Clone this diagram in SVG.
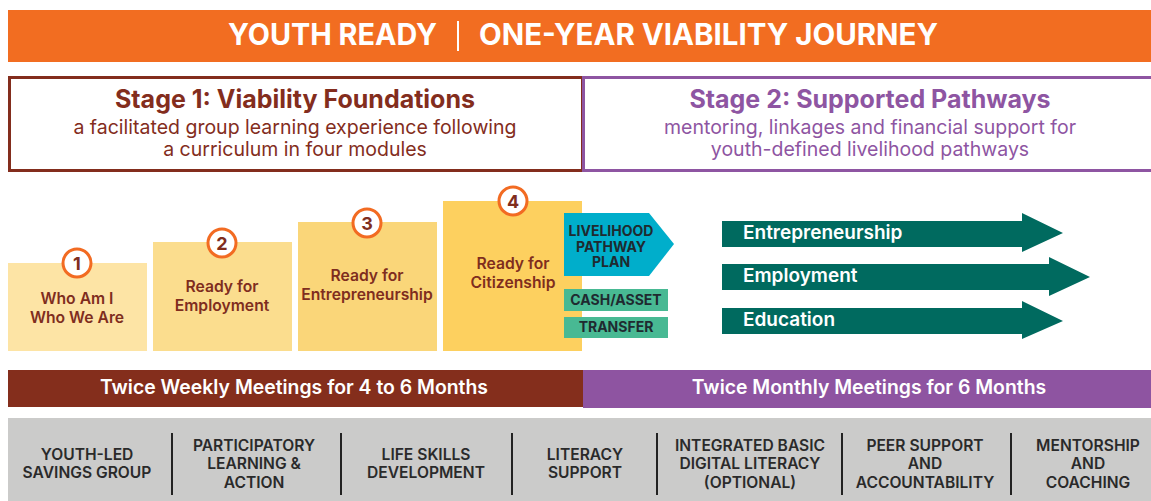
<svg xmlns="http://www.w3.org/2000/svg" width="1151" height="501" viewBox="0 0 1151 501">
<style>
.t{font-family:Inter,"Liberation Sans",Arial,sans-serif}
.title{font-size:29.5px;font-weight:700;fill:#fff}
.stitle{font-size:25px;font-weight:700}
.ssub{font-size:19.5px;font-weight:400}
.step{font-size:15.7px;font-weight:600;fill:#7f2d1e;text-anchor:middle}
.num{font-size:18px;font-weight:700;fill:#7f2d1e;text-anchor:middle}
.circ{fill:#fff;stroke:#f26b22;stroke-width:3}
.lab{font-size:14px;font-weight:700;fill:#1f2a30;text-anchor:middle}
.arr{fill:#006a5f}
.arrt{font-size:19px;font-weight:600;fill:#fff}
.bar{font-size:19.4px;font-weight:600;fill:#fff;text-anchor:middle}
.bt{font-size:15.6px;font-weight:600;fill:#2a2a2a;text-anchor:middle}
.sep{stroke:#222;stroke-width:2}
</style>
<rect width="1151" height="501" fill="#fff"/>
<g id="header">
<rect x="8" y="10" width="1143" height="52" fill="#f26d21"/>
<text class="t title" x="228" y="45" textLength="209" lengthAdjust="spacingAndGlyphs">YOUTH READY</text>
<line x1="458" y1="21" x2="458" y2="51" stroke="#fff" stroke-width="2"/>
<text class="t title" x="479" y="45" textLength="459" lengthAdjust="spacingAndGlyphs">ONE-YEAR VIABILITY JOURNEY</text>
</g>
<g id="stage1">
<rect x="9.5" y="77.5" width="573" height="93" fill="#fff" stroke="#832d1d" stroke-width="3"/>
<text class="t stitle" x="295" y="108" text-anchor="middle" fill="#832d1d">Stage 1: Viability Foundations</text>
<text class="t ssub" x="295" y="134" text-anchor="middle" fill="#832d1d">a facilitated group learning experience following</text>
<text class="t ssub" x="295" y="156" text-anchor="middle" fill="#832d1d">a curriculum in four modules</text>
</g>
<g id="stage2">
<rect x="583.5" y="77.5" width="569" height="93" fill="#fff" stroke="#8e55a2" stroke-width="3"/>
<text class="t stitle" x="870" y="108" text-anchor="middle" fill="#8e55a2">Stage 2: Supported Pathways</text>
<text class="t ssub" x="870" y="134" text-anchor="middle" fill="#8e55a2">mentoring, linkages and financial support for</text>
<text class="t ssub" x="870" y="156" text-anchor="middle" fill="#8e55a2">youth-defined livelihood pathways</text>
</g>
<g id="module1">
<rect x="8" y="263" width="139" height="88" fill="#fde4a5"/>
<circle class="circ" cx="77" cy="263" r="14"/>
<text class="t num" x="77" y="270">1</text>
<text class="t step" x="77" y="304">Who Am I</text>
<text class="t step" x="77" y="323">Who We Are</text>
</g>
<g id="module2">
<rect x="153" y="242" width="139" height="109" fill="#fbdd8e"/>
<circle class="circ" cx="222" cy="243" r="14"/>
<text class="t num" x="222" y="250">2</text>
<text class="t step" x="222" y="292">Ready for</text>
<text class="t step" x="222" y="311">Employment</text>
</g>
<g id="module3">
<rect x="298" y="222" width="139" height="129" fill="#fad679"/>
<circle class="circ" cx="367" cy="223" r="14"/>
<text class="t num" x="367" y="230">3</text>
<text class="t step" x="367" y="281">Ready for</text>
<text class="t step" x="367" y="300">Entrepreneurship</text>
</g>
<g id="module4">
<rect x="443" y="201" width="139" height="150" fill="#fdd05f"/>
<circle class="circ" cx="513" cy="201" r="14"/>
<text class="t num" x="513" y="208">4</text>
<text class="t step" x="513" y="269">Ready for</text>
<text class="t step" x="513" y="288">Citizenship</text>
</g>
<g id="livelihood-plan">
<polygon points="564,213 649,213 674,244 649,276 564,276" fill="#00aecb"/>
<text class="t lab" x="611" y="236">LIVELIHOOD</text>
<text class="t lab" x="611" y="252">PATHWAY</text>
<text class="t lab" x="611" y="267">PLAN</text>
</g>
<g id="cash-asset">
<rect x="564" y="289" width="104" height="22" fill="#48b993"/>
<text class="t lab" x="616" y="305">CASH/ASSET</text>
</g>
<g id="transfer">
<rect x="564" y="317" width="104" height="21" fill="#48b993"/>
<text class="t lab" x="616" y="332">TRANSFER</text>
</g>
<g id="connectors">
<polygon class="arr" points="722,221 1022,221 1022,213 1063,233 1022,252 1022,247 722,247"/>
<polygon class="arr" points="722,264 1049,264 1049,257 1090,277 1049,296 1049,290 722,290"/>
<polygon class="arr" points="722,308 1022,308 1022,301 1063,321 1022,339 1022,334 722,334"/>
</g>
<g id="path-entrepreneurship"><text class="t arrt" x="743" y="239">Entrepreneurship</text></g>
<g id="path-employment"><text class="t arrt" x="743" y="282">Employment</text></g>
<g id="path-education"><text class="t arrt" x="743" y="326">Education</text></g>
<g id="bar-weekly">
<rect x="8" y="370" width="575" height="37" fill="#842e1c"/>
<text class="t bar" x="294" y="394">Twice Weekly Meetings for 4 to 6 Months</text>
</g>
<g id="bar-monthly">
<rect x="583" y="370" width="568" height="38" fill="#8e54a1"/>
<text class="t bar" x="869" y="394">Twice Monthly Meetings for 6 Months</text>
</g>
<g id="activities">
<rect x="8" y="418" width="1143" height="83" fill="#cbcbca"/>
<line class="sep" x1="172" y1="433" x2="172" y2="495"/>
<line class="sep" x1="341" y1="433" x2="341" y2="495"/>
<line class="sep" x1="512" y1="433" x2="512" y2="495"/>
<line class="sep" x1="657" y1="433" x2="657" y2="495"/>
<line class="sep" x1="842" y1="433" x2="842" y2="495"/>
<line class="sep" x1="1011" y1="433" x2="1011" y2="495"/>
<text class="t bt" x="87" y="460">YOUTH-LED</text>
<text class="t bt" x="87" y="478">SAVINGS GROUP</text>
<text class="t bt" x="254" y="451">PARTICIPATORY</text>
<text class="t bt" x="254" y="469">LEARNING &amp;</text>
<text class="t bt" x="254" y="488">ACTION</text>
<text class="t bt" x="426" y="460">LIFE SKILLS</text>
<text class="t bt" x="426" y="478">DEVELOPMENT</text>
<text class="t bt" x="585" y="460">LITERACY</text>
<text class="t bt" x="585" y="478">SUPPORT</text>
<text class="t bt" x="750" y="451">INTEGRATED BASIC</text>
<text class="t bt" x="750" y="469">DIGITAL LITERACY</text>
<text class="t bt" x="750" y="488">(OPTIONAL)</text>
<text class="t bt" x="925" y="451">PEER SUPPORT</text>
<text class="t bt" x="925" y="469">AND</text>
<text class="t bt" x="925" y="488">ACCOUNTABILITY</text>
<text class="t bt" x="1088" y="451">MENTORSHIP</text>
<text class="t bt" x="1088" y="469">AND</text>
<text class="t bt" x="1088" y="488">COACHING</text>
</g>
</svg>
